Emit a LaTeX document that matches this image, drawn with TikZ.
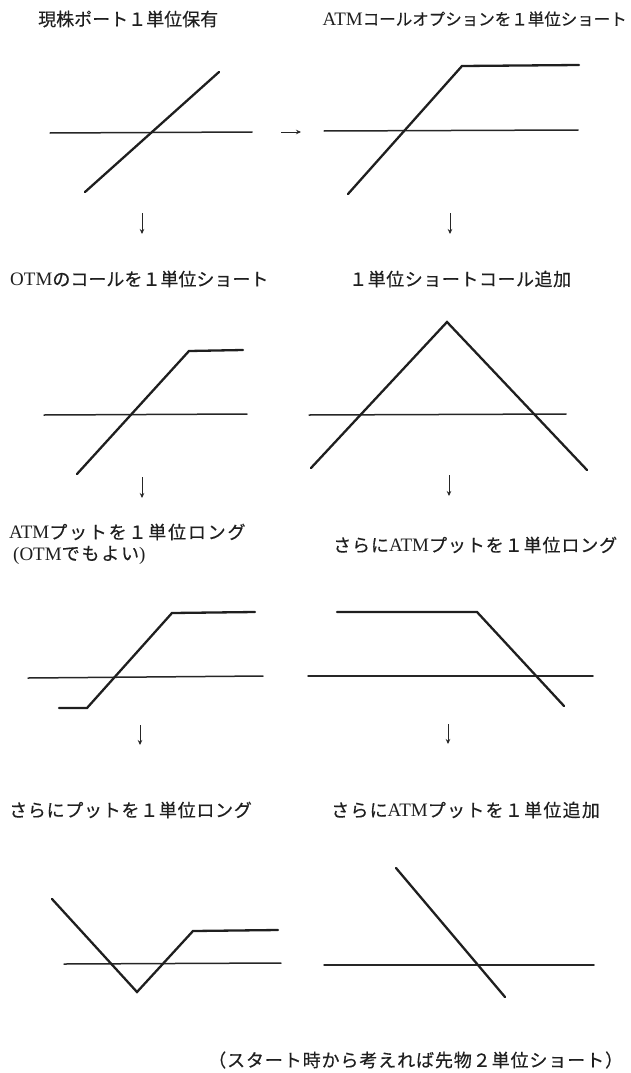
\documentclass[tikz,border=0pt]{standalone}
\usepackage{fontspec}
\newfontfamily\jpn[FakeBold=0.4]{Noto Sans CJK JP}
\newfontfamily\lat{Liberation Serif}
\usetikzlibrary{arrows.meta}
\newcommand{\latw}[1]{{\lat\fontsize{19}{21}\selectfont #1}}
\begin{document}
\begin{tikzpicture}[x=1pt,y=-1pt,
  title/.style={font=\jpn\fontsize{18}{20}\selectfont\addfontfeature{LetterSpace=#1}, inner sep=0pt, anchor=west, text=black!88},
  title/.default=5,
  axis/.style={line width=1.5pt, black!85, line cap=round},
  pay/.style={line width=2.3pt, black!88, line join=miter, line cap=round},
  flow/.style={line width=0.7pt, black!85, -{Stealth[length=5pt,width=4.5pt]}}]
\useasboundingbox (0,0) rectangle (630,1073);

% titles
\node[title=0] (t1) at (38,19)  {現株ポート１単位保有};
\node[title=0, font=\jpn\fontsize{16.5}{19}\selectfont, anchor=east] (t2) at (627,19) {\latw{ATM}コールオプションを１単位ショート};
\node[title=0] (t3) at (10,279) {\latw{OTM}のコールを１単位ショート};
\node[title=3] (t4) at (349,279) {１単位ショートコール追加};
\node[title=10] (t5) at (9,532)  {\latw{ATM}プットを１単位ロング};
\node[title=10] (t5b) at (13,555) {\latw{(OTM}でもよい\latw{)}};
\node[title=5] (t6) at (333,545) {さらに\latw{ATM}プットを１単位ロング};
\node[title=4] (t7) at (9,810)  {さらにプットを１単位ロング};
\node[title=7] (t8) at (331,810) {さらに\latw{ATM}プットを１単位追加};
\node[title=5] (t9) at (208,1060) {（スタート時から考えれば先物２単位ショート）};

% panel 1
\draw[axis] (50,133) -- (252,132);
\draw[pay] (85,192) -- (219,72);
% panel 2
\draw[axis] (324,131) -- (578,130);
\draw[pay] (348,194) -- (462,66) -- (579,65);
% panel 3
\draw[axis] (44,415) -- (247,414);
\draw[pay] (77,474) -- (189,351) -- (243,350);
% panel 4
\draw[axis] (309,415) -- (566,414);
\draw[pay] (311,468) -- (447,322) -- (587,470);
% panel 5
\draw[axis] (28,678) -- (263,676);
\draw[pay] (59,708) -- (87,708) -- (172,613) -- (255,612);
% panel 6
\draw[axis] (308,676) -- (593,676);
\draw[pay] (337,612) -- (477,612) -- (564,706);
% panel 7
\draw[axis] (64,964) -- (281,963);
\draw[pay] (52,899) -- (137,992) -- (193,931) -- (278,930);
% panel 8
\draw[axis] (324,965) -- (594,965);
\draw[pay] (396,868) -- (505,997);

% flow arrows
\coordinate (r1s) at (281,132); \coordinate (r1e) at (301,132);
\coordinate (d1s) at (142,213); \coordinate (d1e) at (142,234);
\coordinate (d2s) at (450,213); \coordinate (d2e) at (450,234);
\coordinate (d3s) at (142,477); \coordinate (d3e) at (142,498);
\coordinate (d4s) at (449,475); \coordinate (d4e) at (449,496);
\coordinate (d5s) at (140,725); \coordinate (d5e) at (140,745);
\coordinate (d6s) at (448,724); \coordinate (d6e) at (448,744);
\draw[flow] (r1s) -- (r1e);
\draw[flow] (d1s) -- (d1e);
\draw[flow] (d2s) -- (d2e);
\draw[flow] (d3s) -- (d3e);
\draw[flow] (d4s) -- (d4e);
\draw[flow] (d5s) -- (d5e);
\draw[flow] (d6s) -- (d6e);
\end{tikzpicture}
\end{document}
